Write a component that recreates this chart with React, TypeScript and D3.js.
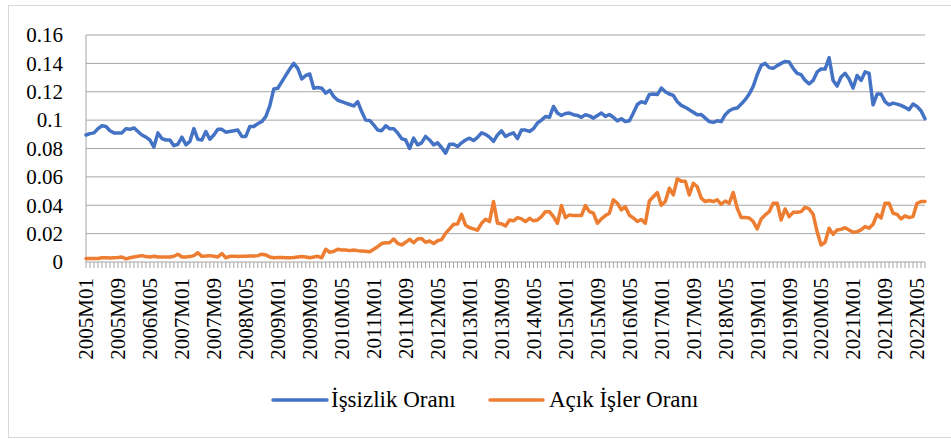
import React from "react";
import * as d3 from "d3";

// İşsizlik oranı, 2005M01 - 2022M07 (aylık)
const unemployment = [
  0.0895, 0.0905, 0.091, 0.094, 0.096, 0.0955, 0.0925, 0.091, 0.091, 0.091,
  0.094, 0.0935, 0.0945, 0.092, 0.0895, 0.088, 0.086, 0.081, 0.091, 0.087,
  0.086, 0.086, 0.082, 0.083, 0.088, 0.0826, 0.085, 0.094, 0.0865, 0.086,
  0.092, 0.0865, 0.0895, 0.0935, 0.0935, 0.0915, 0.092, 0.0925, 0.093, 0.0885,
  0.0885, 0.0955, 0.0955, 0.0975, 0.099, 0.1025, 0.11, 0.122, 0.1225, 0.127,
  0.1315, 0.136, 0.14, 0.1365, 0.129, 0.1315, 0.1325, 0.1225, 0.123, 0.1225,
  0.119, 0.121, 0.1167, 0.114, 0.113, 0.112, 0.111, 0.11, 0.113, 0.106,
  0.1, 0.0998, 0.0967, 0.093, 0.0925, 0.096, 0.094, 0.094, 0.091, 0.087,
  0.086, 0.08, 0.0873, 0.0826, 0.084, 0.0885, 0.086, 0.0826, 0.084, 0.0807,
  0.0767, 0.083, 0.083, 0.0814, 0.084, 0.086, 0.0873, 0.0856, 0.0878, 0.091,
  0.09, 0.088, 0.085, 0.0896, 0.0925, 0.0885, 0.09, 0.091, 0.087, 0.093,
  0.093, 0.092, 0.094, 0.098, 0.1, 0.1026, 0.102, 0.1096, 0.105, 0.1033,
  0.1047, 0.105, 0.1038, 0.1033, 0.102, 0.1038, 0.103, 0.1014, 0.1033, 0.105,
  0.1026, 0.104, 0.102, 0.0995, 0.101, 0.099, 0.0995, 0.105, 0.111, 0.113,
  0.112, 0.118, 0.1184, 0.118, 0.1226, 0.12, 0.1184, 0.1174, 0.113, 0.1104,
  0.109, 0.1073, 0.1056, 0.1038, 0.104, 0.1014, 0.099, 0.0984, 0.0995, 0.099,
  0.1038, 0.1066, 0.108, 0.1085, 0.1113, 0.1144, 0.1184, 0.1238, 0.132, 0.1386,
  0.14, 0.137, 0.1365, 0.1384, 0.14, 0.1414, 0.141, 0.1365, 0.133, 0.132,
  0.128, 0.1256, 0.128, 0.134, 0.136, 0.136, 0.144, 0.128, 0.124, 0.1304,
  0.133, 0.129, 0.1226, 0.1315, 0.128, 0.134, 0.133, 0.1108, 0.1184, 0.1184,
  0.113, 0.1108, 0.112, 0.1113, 0.1104, 0.109, 0.1073, 0.1113, 0.1096, 0.1066, 0.1009,
];

// Açık işler oranı
const vacancies = [
  0.0025, 0.0025, 0.0025, 0.0025, 0.003, 0.003, 0.0028, 0.003, 0.0032, 0.0035,
  0.0022, 0.003, 0.0035, 0.004, 0.0045, 0.0038, 0.0035, 0.004, 0.0035, 0.0035,
  0.0035, 0.0035, 0.004, 0.0055, 0.0035, 0.0035, 0.0038, 0.0045, 0.0065, 0.004,
  0.0042, 0.0045, 0.004, 0.0035, 0.006, 0.003, 0.004, 0.004, 0.0038, 0.004,
  0.004, 0.0042, 0.0042, 0.0045, 0.0055, 0.005, 0.0035, 0.003, 0.0032, 0.0032,
  0.003, 0.003, 0.0032, 0.0035, 0.0038, 0.0035, 0.003, 0.0035, 0.004, 0.003,
  0.009, 0.0068, 0.0075, 0.009, 0.0085, 0.0085, 0.008, 0.0085, 0.008, 0.0078,
  0.0075, 0.0073, 0.009, 0.0108, 0.013, 0.0136, 0.0136, 0.0162, 0.0132, 0.012,
  0.0139, 0.016, 0.0136, 0.0162, 0.0165, 0.0139, 0.0148, 0.013, 0.015, 0.0158,
  0.0202, 0.0233, 0.0266, 0.0268, 0.0336, 0.026, 0.0242, 0.0233, 0.0224, 0.0273,
  0.0301, 0.0285, 0.0426, 0.0273, 0.027, 0.0254, 0.0296, 0.029, 0.0313, 0.0304,
  0.0285, 0.0308, 0.029, 0.0296, 0.032, 0.0355, 0.0355, 0.032, 0.0273, 0.0398,
  0.0313, 0.0332, 0.0327, 0.0327, 0.0327, 0.0398, 0.0355, 0.0344, 0.0273, 0.0304,
  0.0327, 0.0344, 0.0438, 0.0414, 0.0367, 0.039, 0.033, 0.031, 0.0285, 0.03,
  0.0273, 0.043, 0.046, 0.049, 0.04, 0.0426, 0.052, 0.0473, 0.0586, 0.057,
  0.057, 0.0473, 0.0555, 0.053, 0.045, 0.0426, 0.0433, 0.0426, 0.0438, 0.0407,
  0.043, 0.0414, 0.049, 0.0379, 0.0313, 0.0313, 0.031, 0.0285, 0.0233, 0.0304,
  0.0332, 0.0355, 0.0414, 0.0414, 0.0296, 0.0374, 0.032, 0.035, 0.035, 0.0355,
  0.0386, 0.0374, 0.0336, 0.0214, 0.012, 0.0139, 0.0238, 0.0195, 0.0226, 0.023,
  0.0242, 0.0226, 0.021, 0.0214, 0.0226, 0.025, 0.0238, 0.0266, 0.0336, 0.031,
  0.0414, 0.0414, 0.0344, 0.0336, 0.0304, 0.0325, 0.0313, 0.032, 0.0414, 0.0426, 0.0426,
];

const yTicks = [0, 0.02, 0.04, 0.06, 0.08, 0.1, 0.12, 0.14, 0.16];
const seriesNames = ["İşsizlik Oranı", "Açık İşler Oranı"];
const colors = ["#4472C4", "#ED7D31"];

// kategori etiketleri: 2005M01 ...
const months: string[] = [];
for (let i = 0; i < unemployment.length; i++) {
  const y = 2005 + Math.floor(i / 12);
  const m = (i % 12) + 1;
  months.push(`${y}M${m < 10 ? "0" + m : m}`);
}

const W = 951;
const H = 439;
const left = 86;
const right = 925;
const top = 35;
const bottom = 262;
const serif = { fontFamily: "'Liberation Serif', 'Times New Roman', serif" };

export default function App() {
  const x = d3.scalePoint<string>().domain(months).range([left, right]);
  const y = d3.scaleLinear().domain([0, 0.16]).range([bottom, top]);

  const line = d3
    .line<number>()
    .x((_, i) => x(months[i]) as number)
    .y((d) => y(d));

  const gridColor = "#a6a6a6";

  return (
    <svg
      width={W}
      height={H}
      style={{ position: "absolute", left: 0, top: 0, background: "#fff" }}
    >
      <rect x={8.5} y={5.5} width={960} height={432} fill="#fff" stroke="#d9d9d9" />

      {/* grid */}
      {yTicks.map((t) => (
        <g key={t}>
          <line x1={left} x2={right} y1={y(t)} y2={y(t)} stroke={gridColor} strokeWidth={1} />
          <text x={63} y={y(t)} dy="0.35em" textAnchor="end" fontSize={21} fill="#000" style={serif}>
            {t === 0 ? "0" : d3.format(".2~f")(t)}
          </text>
        </g>
      ))}
      <line x1={left} x2={left} y1={top} y2={bottom} stroke={gridColor} />

      {/* x ticks */}
      {months.map((m) => (
        <line key={m} x1={x(m)} x2={x(m)} y1={bottom} y2={bottom + 6} stroke={gridColor} />
      ))}
      {months
        .filter((_, i) => i % 8 === 0)
        .map((m) => (
          <text
            key={m}
            transform={`translate(${x(m)},${bottom + 16}) rotate(-90)`}
            dy="0.35em"
            textAnchor="end"
            fontSize={21}
            fill="#000"
            style={serif}
          >
            {m}
          </text>
        ))}

      {/* lines */}
      {[unemployment, vacancies].map((s, k) => (
        <path
          key={k}
          d={line(s) || ""}
          fill="none"
          stroke={colors[k]}
          strokeWidth={3.5}
          strokeLinejoin="round"
          strokeLinecap="round"
        />
      ))}

      {/* legend */}
      {[
        [273, 327, 331],
        [490, 543, 549],
      ].map(([x1, x2, tx], k) => (
        <g key={k}>
          <line x1={x1} x2={x2} y1={400} y2={400} stroke={colors[k]} strokeWidth={3.5} strokeLinecap="round" />
          <text x={tx} y={407} fontSize={23} fill="#000" style={serif}>
            {seriesNames[k]}
          </text>
        </g>
      ))}
    </svg>
  );
}
